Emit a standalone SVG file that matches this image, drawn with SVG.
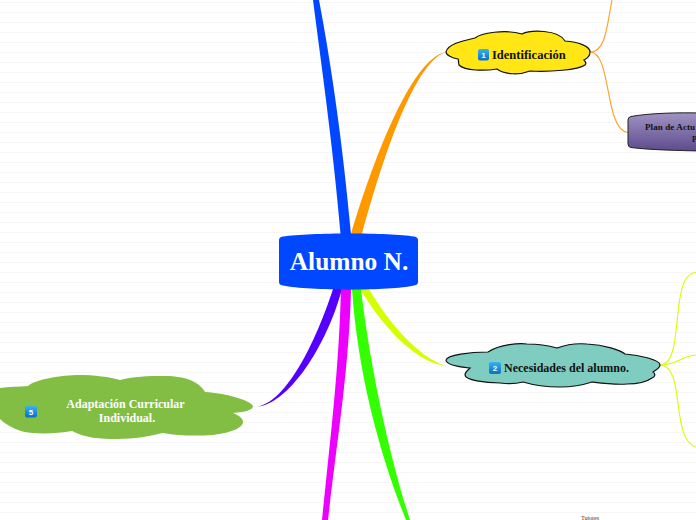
<svg xmlns="http://www.w3.org/2000/svg" width="696" height="520" viewBox="0 0 696 520">
<style>
text{font-family:"Liberation Serif","Times New Roman",serif;font-weight:bold}
.cloud{stroke:#111;stroke-width:1.2}
.thin{fill:none;stroke-width:1.1}
.badge{fill:url(#badge);stroke:none}
.num{fill:#fff;font-family:"Liberation Sans",Arial,sans-serif;font-size:8px;text-anchor:middle}
</style>
<defs>
<pattern id="bg" width="10" height="10" patternUnits="userSpaceOnUse"><rect width="10" height="10" fill="#fff"/><rect y="2" width="10" height="1" fill="#f6f6f6"/></pattern>
<linearGradient id="badge" x1="0" y1="0" x2="0" y2="1"><stop offset="0" stop-color="#35b4f0"/><stop offset="1" stop-color="#0a6fc4"/></linearGradient>
<linearGradient id="purple" x1="0" y1="0" x2="0" y2="1"><stop offset="0" stop-color="#a093c3"/><stop offset="1" stop-color="#5d4b8c"/></linearGradient>
</defs>
<rect width="696" height="520" fill="url(#bg)"/>
<g id="connectors">
<path d="M313,0C320,55 333,145 340.500,234L351,234C345,170 336,90 319,0Z" fill="#0047ff"/>
<path d="M351,234C370,170 410,58 446,52C412,62 378,175 362,234Z" fill="#ff9900"/>
<path d="M360,289C380,322 413,362 446,366C420,358 390,325 369,289Z" fill="#d4ff00"/>
<path d="M333,289C320,330 288,406 254,407C288,407 327,345 342,289Z" fill="#5500ff"/>
<path d="M341,289C339,370 330,440 322,520L328,520C337,440 349,370 351,289Z" fill="#ee00ff"/>
<path d="M352,289C358,375 380,455 406,520L410,520C392,465 371,375 361,289Z" fill="#33ff00"/>
<path class="thin" stroke="#ff9e1f" d="M590,52C606,52 607,25 612,0"/>
<path class="thin" stroke="#ff9e1f" d="M590,52C612,52 604,130 628,132.500"/>
<path class="thin" stroke="#d4ff00" d="M660,365C686,365 668,274 696,272.500"/>
<path class="thin" stroke="#d4ff00" d="M660,365C678,365 680,356 696,355"/>
<path class="thin" stroke="#d4ff00" d="M660,365C686,365 670,440 696,447"/>
</g>
<g id="node-center">
<path d="M279,240Q279,237 283,236.500C310,232.500 390,232.500 414,236.500Q418,237 418,240V282Q418,285 414,285.500C390,291 310,291 283,285.500Q279,285 279,282Z" fill="#0047ff"/>
<text x="349" y="270" font-size="25.400" fill="#fff" text-anchor="middle">Alumno N.</text>
</g>
<g id="node-identificacion">
<path class="cloud" fill="#ffe614" d="M446,52C448,44 462,41 475,38C481,33 505,29 522,34C530,30 558,29 565,41C578,42 590,46 590,52C590,56 586,59 584,60C586,62 586,64 585,65C578,70 550,72 530,71C520,75 505,75 497,69C485,71 465,71 459,65C458,62 459,60 458,59C452,58 446,55 446,52Z"/>
<rect class="badge" x="478" y="49" width="11" height="11.500" rx="2"/>
<text class="num" x="483.500" y="58">1</text>
<text x="492" y="59" font-size="12.500" fill="#111">Identificación</text>
</g>
<g id="node-plan">
<path d="M628,120Q628,117 631,116.500C650,113 680,112.500 700,113V151C680,150.500 650,150 631,147.500Q628,147 628,144Z" fill="url(#purple)" stroke="#222" stroke-width="1"/>
<text x="645" y="130" font-size="9" letter-spacing="0.100" fill="#111">Plan de Actu</text>
<text x="692" y="142" font-size="8" fill="#111">P</text>
</g>
<g id="node-necesidades">
<path class="cloud" fill="#7ecdc0" d="M446,360C447,355 470,352 488,352C500,344 520,343 527,344C540,344 550,346 557,348C565,345 575,343 587,344C605,345 620,350 625,354C640,355 660,360 660,365C660,368 656,370 653,372C656,374 655,377 652,378C645,383 635,384 627,384C615,385 600,383 592,382C580,386 570,387 560,387C545,387 533,385 523,382C515,384 508,384 500,383C485,383 465,380 465,375C465,372 468,370 470,368C460,367 446,365 446,360Z"/>
<rect class="badge" x="489" y="362" width="12" height="12" rx="2"/>
<text class="num" x="495" y="371">2</text>
<text x="504" y="372" font-size="12" fill="#111">Necesidades del alumno.</text>
</g>
<g id="node-adaptacion">
<path fill="#82bd44" d="M253,406C250,400 225,393 205,392C200,382 185,375 160,376C140,376 128,378 120,380C110,377 95,375 77,375C55,376 35,380 28,386C15,387 0,387 -10,390C-30,395 -22,410 0,413L-1,418C5,425 20,433 33,433C45,434 60,433 72,431C85,438 100,439 117,439C135,439 150,436 163,433C180,436 195,436 213,435C230,433 243,428 243,422C243,418 238,415 233,413C245,412 253,410 253,406Z"/>
<rect class="badge" x="25" y="406" width="12" height="11.500" rx="2"/>
<text class="num" x="31" y="415">5</text>
<text x="125.500" y="408" font-size="12" fill="#fff" text-anchor="middle">Adaptación Curricular</text>
<text x="127" y="422" font-size="12" fill="#fff" text-anchor="middle">Individual.</text>
</g>
<g id="node-tutores">
<text x="581" y="520" font-size="6" fill="#333" style="font-weight:normal">Tutores</text>
</g>
</svg>
